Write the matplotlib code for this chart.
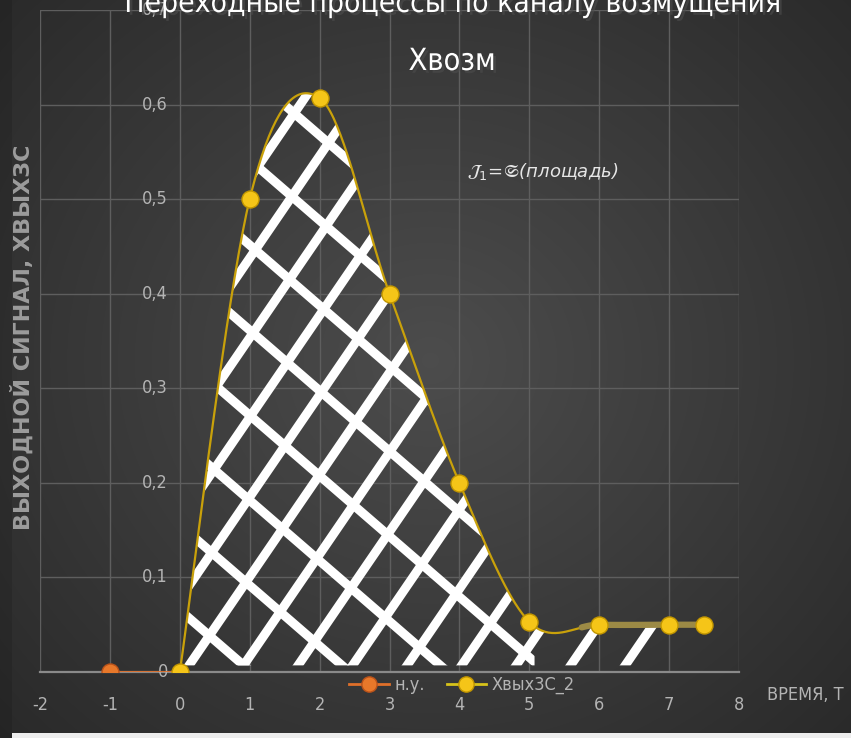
import numpy as np
import matplotlib
matplotlib.use("Agg")
import matplotlib.pyplot as plt
from matplotlib import font_manager
from matplotlib.collections import LineCollection
from matplotlib.patches import PathPatch
from matplotlib.path import Path
from matplotlib.lines import Line2D
import matplotlib.patheffects as pe

# ---- data ----
t_out = [0, 1, 2, 3, 4, 5, 6, 7, 7.5]
x_out = [0.0, 0.5, 0.607, 0.4, 0.2, 0.053, 0.05, 0.05, 0.05]
t_init = [-1, 0]
x_init = [0.0, 0.0]
x_ticks = [-2, -1, 0, 1, 2, 3, 4, 5, 6, 7, 8]
y_ticks = [0.0, 0.1, 0.2, 0.3, 0.4, 0.5, 0.6, 0.7]

title_1 = "Переходные процессы по каналу возмущения"
title_2 = "Хвозм"
y_label = "ВЫХОДНОЙ СИГНАЛ, ХВЫХЗС"
x_label = "ВРЕМЯ, Т"
note = "(площадь)"


def narrow_font():
    """Pick a narrow sans family when one is installed."""
    for fam in ["Liberation Sans Narrow", "Arial Narrow"]:
        try:
            font_manager.findfont(font_manager.FontProperties(family=fam),
                                  fallback_to_default=False)
            return dict(fontfamily=fam)
        except Exception:
            pass
    return dict(fontfamily="DejaVu Sans", fontstretch="condensed")


def smooth(xs, ys, n=40):
    """Cubic Bezier smoothing through the points (spreadsheet-style)."""
    P = np.column_stack([xs, ys]).astype(float)
    out = []
    for i in range(len(P) - 1):
        p0 = P[i]
        p3 = P[i + 1]
        pm = P[i - 1] if i > 0 else P[i]
        pp = P[i + 2] if i + 2 < len(P) else P[i + 1]
        c1 = p0 + (p3 - pm) / 6.0
        c2 = p3 - (pp - p0) / 6.0
        tt = np.linspace(0, 1, n, endpoint=(i == len(P) - 2))[:, None]
        seg = ((1 - tt) ** 3) * p0 + 3 * ((1 - tt) ** 2) * tt * c1 \
            + 3 * (1 - tt) * tt ** 2 * c2 + tt ** 3 * p3
        out.append(seg)
    c = np.vstack(out)
    return c[:, 0], c[:, 1]


W, H, DPI = 851, 738, 100
fig = plt.figure(figsize=(W / DPI, H / DPI), dpi=DPI)

# background: dark radial gradient
bg = fig.add_axes([0, 0, 1, 1], zorder=-10)
gy, gx = np.mgrid[0:H, 0:W]
r = np.sqrt(((gx - 430) / 560.0) ** 2 + ((gy - 360) / 520.0) ** 2)
val = 0.30 - 0.13 * np.clip(r, 0, 1.2)
img = np.dstack([val, val, val])
img[:, :12] *= 0.88
img[733:, 12:] = 0.93
bg.imshow(img, aspect="auto", extent=[0, 1, 0, 1], origin="upper")
bg.axis("off")

left, right = 40 / W, 739 / W
bottom, top = (H - 672) / H, (H - 10) / H
ax = fig.add_axes([left, bottom, right - left, top - bottom])
ax.set_facecolor("none")
ax.set_xlim(-2, 8)
ax.set_ylim(0, 0.7)

for s in ["top", "right", "left"]:
    ax.spines[s].set_visible(False)
ax.spines["bottom"].set_color("#8a8a8a")
ax.spines["bottom"].set_linewidth(1.6)

cond = dict(fontfamily="DejaVu Sans", fontstretch="condensed")
narrow = narrow_font()

ax.set_xticks(x_ticks)
ax.set_yticks(y_ticks)
ax.grid(True, color="#5e5e5e", linewidth=1.0)
ax.set_axisbelow(True)
ax.tick_params(length=0)
ax.set_xticklabels([str(v) for v in x_ticks], color="#b4b4b4",
                   fontsize=13, fontstretch="condensed")
ax.tick_params(axis="x", pad=17)
ax.set_yticklabels([])

# y tick labels sit just left of the vertical axis at t = 0
for v in y_ticks:
    lab = "0" if v == 0 else f"{v:.1f}".replace(".", ",")
    ax.text(-0.17, v, lab, ha="right", va="center", color="#b4b4b4",
            fontsize=13, clip_on=False, **cond)

# smooth output curve
cx, cy = smooth(t_out, x_out)


# hatched area under the curve
def region(xmax):
    m = cx <= xmax
    px = np.concatenate([[0.05], cx[m][1:], [cx[m][-1], 0.05]])
    py = np.concatenate([[0.007], cy[m][1:], [0.007, 0.007]])
    return PathPatch(Path(np.column_stack([px, py])), transform=ax.transData,
                     facecolor="none", edgecolor="none")


reg_a = region(6.85)
reg_b = region(5.1)
ax.add_patch(reg_a)
ax.add_patch(reg_b)

k = np.arange(-20, 30)
xa = np.array([-1.0, 9.0])
s1, d1, x01 = 0.108, 0.78, 0.16
segs1 = [np.column_stack([xa, 0.01 + s1 * (xa - (x01 + i * d1))]) for i in k]
s2, d2 = -0.064, 0.090
segs2 = [np.column_stack([xa, 0.299 + i * d2 + s2 * (xa - 0.57)]) for i in k]

lc1 = LineCollection(segs1, colors="white", linewidths=6.5, capstyle="round", zorder=3)
lc2 = LineCollection(segs2, colors="white", linewidths=6.5, capstyle="round", zorder=3)
ax.add_collection(lc1)
ax.add_collection(lc2)
lc1.set_clip_path(reg_a)
lc2.set_clip_path(reg_b)

ax.plot(cx, cy, color="#c9a10a", linewidth=1.6, zorder=4)
mm = cx >= 5.75
ax.plot(cx[mm], cy[mm], color="#9c8a45", linewidth=4.5, zorder=4,
        solid_capstyle="round")
ax.plot(t_init, x_init, color="#e0702a", linewidth=2.0, zorder=4)

ax.scatter(t_init[:1], x_init[:1], s=150, color="#e8782a", edgecolor="#b9521a",
           linewidth=1, zorder=5)
ax.scatter(t_out, x_out, s=150, color="#f5c518", edgecolor="#c19500",
           linewidth=1, zorder=5)

# legend
h1 = Line2D([], [], color="#e0702a", lw=2, marker="o", ms=11,
            mfc="#e8782a", mec="#b9521a")
h2 = Line2D([], [], color="#d7c31a", lw=2, marker="o", ms=11,
            mfc="#f5c518", mec="#c19500")
leg = fig.legend([h1, h2], ["н.у.", "Хвых3С_2"], ncol=2, frameon=False,
                 loc="center", bbox_to_anchor=(462 / W, 1 - 685 / H),
                 handlelength=2.2, columnspacing=1.2, handletextpad=0.3,
                 prop=dict(family="DejaVu Sans", stretch="condensed", size=13))
for t in leg.get_texts():
    t.set_color("#b4b4b4")

shadow = [pe.withSimplePatchShadow(offset=(2, -2), alpha=0.6)]
fig.text(452 / W, 1 - 12 / H, title_1, ha="center", va="baseline",
         color="white", fontsize=21.5, path_effects=shadow, **narrow)
fig.text(452 / W, 1 - 70 / H, title_2, ha="center", va="baseline",
         color="white", fontsize=22, path_effects=shadow, **narrow)

fig.text(22 / W, 1 - 337 / H, y_label, rotation=90, ha="center", va="center",
         color="#9c9c9c", fontsize=16, fontweight="bold")
fig.text(805 / W, 1 - 695 / H, x_label, ha="center", va="center",
         color="#b4b4b4", fontsize=13, **cond)

fig.text(543 / W, 1 - 172 / H,
         r"$\mathcal{J}_{1}\!=\!\mathfrak{S}$" + note,
         ha="center", va="center", color="#e6e6e6", fontsize=13,
         style="italic")

fig.savefig("out.png", dpi=DPI)
